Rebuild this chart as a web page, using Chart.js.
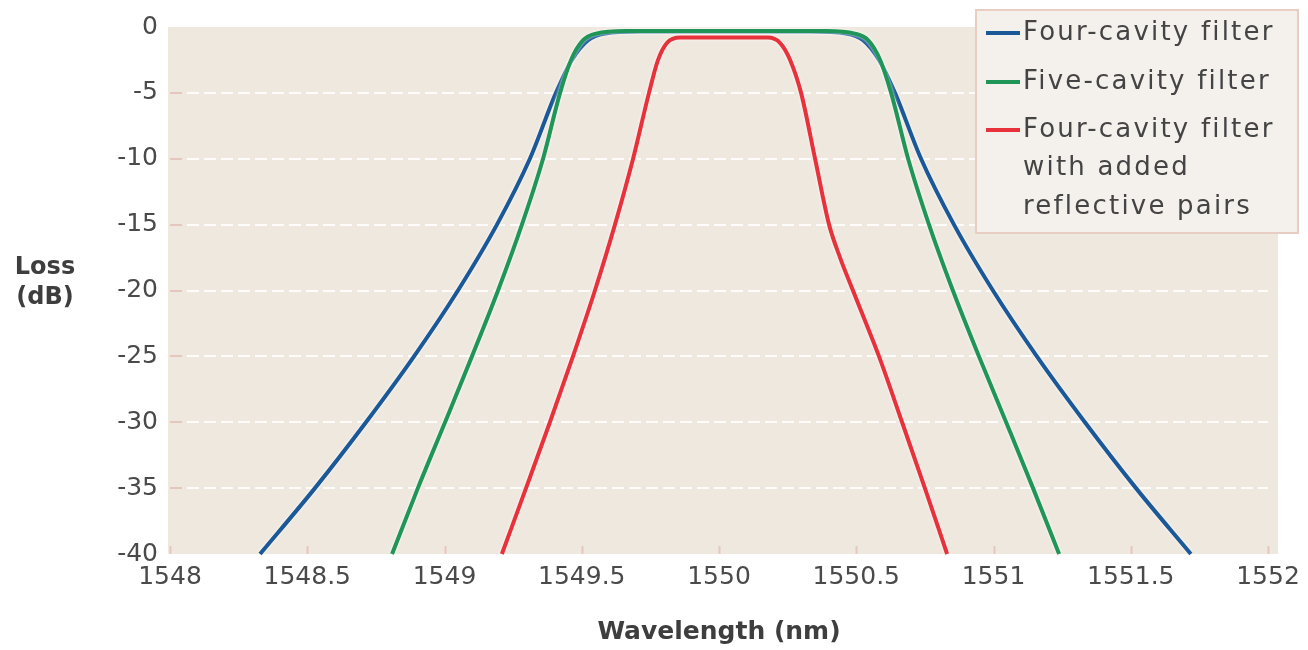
<!DOCTYPE html>
<html>
<head>
<meta charset="utf-8">
<script src="https://cdn.jsdelivr.net/npm/chart.js@4.4.1/dist/chart.umd.min.js"></script>
<style>
  html, body { margin: 0; padding: 0; background: #ffffff; }
  #wrap { width: 1308px; height: 650px; position: relative; }
</style>
</head>
<body>
<div id="wrap"><canvas id="chart" width="1308" height="650"></canvas></div>
<script>
// ---------- data ----------
const seriesLabels = [
  ['Four-cavity filter'],
  ['Five-cavity filter'],
  ['Four-cavity filter', 'with added', 'reflective pairs']
];
const seriesColors = ['#1b5897', '#1f9657', '#e8323b'];

// Four-cavity filter (wavelength nm, loss dB)
const fourCavityWl = [1548.328, 1548.528, 1548.714, 1548.889, 1549.049, 1549.191, 1549.311, 1549.406, 1549.464, 1549.523, 1549.585, 1549.712, 1550.020, 1550.335, 1550.463, 1550.525, 1550.583, 1550.641, 1550.736, 1550.856, 1550.998, 1551.158, 1551.333, 1551.519, 1551.719];
const fourCavityLoss = [-40, -35, -30, -25, -20, -15, -10, -5, -2.5, -1, -0.5, -0.35, -0.35, -0.35, -0.5, -1, -2.5, -5, -10, -15, -20, -25, -30, -35, -40];

// Five-cavity filter
const fiveCavityWl = [1548.809, 1548.903, 1549.002, 1549.100, 1549.195, 1549.282, 1549.359, 1549.421, 1549.461, 1549.505, 1549.552, 1549.658, 1550.020, 1550.390, 1550.495, 1550.543, 1550.587, 1550.627, 1550.689, 1550.765, 1550.852, 1550.947, 1551.046, 1551.144, 1551.239];
const fiveCavityLoss = [-40, -35, -30, -25, -20, -15, -10, -5, -2.5, -1, -0.5, -0.3, -0.3, -0.3, -0.5, -1, -2.5, -5, -10, -15, -20, -25, -30, -35, -40];

// Four-cavity filter with added reflective pairs
const reflectiveWl = [1549.209, 1549.297, 1549.384, 1549.468, 1549.548, 1549.621, 1549.687, 1549.745, 1549.778, 1549.811, 1549.858, 1550.020, 1550.178, 1550.222, 1550.259, 1550.299, 1550.350, 1550.401, 1550.441, 1550.488, 1550.536, 1550.583, 1550.667, 1550.750, 1550.831];
const reflectiveLoss = [-40, -35, -30, -25, -20, -15, -10, -5, -2.5, -1.2, -0.8, -0.8, -0.8, -1.2, -2.5, -5, -10, -15, -17.5, -20, -22.5, -25, -30, -35, -40];

const xTickValues = [1548, 1548.5, 1549, 1549.5, 1550, 1550.5, 1551, 1551.5, 1552];
const xTickLabels = ['1548', '1548.5', '1549', '1549.5', '1550', '1550.5', '1551', '1551.5', '1552'];
const yTickValues = [0, -5, -10, -15, -20, -25, -30, -35, -40];
const yTickLabels = ['0', '-5', '-10', '-15', '-20', '-25', '-30', '-35', '-40'];

const xTitle = 'Wavelength (nm)';
const yTitleLines = ['Loss', '(dB)'];

// ---------- build ----------
function toPoints(xs, ys) { return xs.map((x, i) => ({ x: x, y: ys[i] })); }

const plotBg = {
  id: 'plotBg',
  beforeDraw(chart) {
    const { ctx, chartArea: a } = chart;
    ctx.save();
    ctx.fillStyle = '#efe8df';
    ctx.fillRect(a.left - 2, a.top, a.right - a.left + 12, a.bottom - a.top);
    ctx.restore();
  },
  beforeDatasetsDraw(chart) {
    const { ctx, chartArea: a, scales } = chart;
    ctx.save();
    ctx.strokeStyle = '#e6c7bd';
    ctx.lineWidth = 2;
    xTickValues.forEach(v => {
      const px = Math.round(scales.x.getPixelForValue(v)) + 0.5;
      ctx.beginPath(); ctx.moveTo(px, a.bottom); ctx.lineTo(px, a.bottom - 8); ctx.stroke();
    });
    yTickValues.forEach(v => {
      if (v === 0 || v === -40) return;
      const py = Math.round(scales.y.getPixelForValue(v));
      ctx.beginPath(); ctx.moveTo(a.left, py); ctx.lineTo(a.left + 12, py); ctx.stroke();
    });
    ctx.restore();
  },
  beforeDatasetDraw(chart) {
    chart.ctx.save();
    chart.ctx.shadowColor = 'rgba(255,255,255,0.95)';
    chart.ctx.shadowBlur = 3;
  },
  afterDatasetDraw(chart) {
    chart.ctx.restore();
  },
  afterDraw(chart) {
    const { ctx } = chart;
    // y-axis title (horizontal, two lines)
    ctx.save();
    ctx.fillStyle = '#3e3e3e';
    ctx.font = 'bold 24px "DejaVu Sans"';
    ctx.textAlign = 'center';
    ctx.textBaseline = 'middle';
    ctx.fillText(yTitleLines[0], 45, 268);
    ctx.fillText(yTitleLines[1], 45, 298);
    ctx.restore();

    // legend box
    const bx = 976, by = 10, bw = 322, bh = 223;
    ctx.save();
    ctx.fillStyle = '#f4f0ec';
    ctx.fillRect(bx, by, bw, bh);
    ctx.strokeStyle = '#e8cdc2';
    ctx.lineWidth = 2;
    ctx.strokeRect(bx, by, bw, bh);
    ctx.font = '26px "DejaVu Sans"';
    try { ctx.letterSpacing = '2.2px'; } catch (e) {}
    ctx.textAlign = 'left';
    ctx.textBaseline = 'middle';
    const entryY = [33, 82, 130];
    chart.data.datasets.forEach((ds, i) => {
      const y0 = entryY[i];
      ctx.strokeStyle = ds.borderColor;
      ctx.lineWidth = 4;
      ctx.beginPath(); ctx.moveTo(986, y0); ctx.lineTo(1020, y0); ctx.stroke();
      ctx.fillStyle = '#444444';
      seriesLabels[i].forEach((t, k) => ctx.fillText(t, 1023, y0 + k * 38.5));
    });
    ctx.restore();
  }
};

new Chart(document.getElementById('chart'), {
  type: 'line',
  data: {
    datasets: [
      { label: seriesLabels[0].join(' '), data: toPoints(fourCavityWl, fourCavityLoss), borderColor: seriesColors[0], order: 3 },
      { label: seriesLabels[1].join(' '), data: toPoints(fiveCavityWl, fiveCavityLoss), borderColor: seriesColors[1], order: 2 },
      { label: seriesLabels[2].join(' '), data: toPoints(reflectiveWl, reflectiveLoss), borderColor: seriesColors[2], order: 1 }
    ].map(d => Object.assign(d, {
      borderWidth: 4, pointRadius: 0, fill: false,
      cubicInterpolationMode: 'monotone', clip: 4
    }))
  },
  options: {
    responsive: false,
    animation: false,
    devicePixelRatio: 1,
    layout: { padding: { left: 0, right: 40, top: 22, bottom: 0 } },
    plugins: { legend: { display: false }, tooltip: { enabled: false } },
    scales: {
      x: {
        type: 'linear', min: 1548, max: 1552,
        afterBuildTicks(scale) { scale.ticks = xTickValues.map(v => ({ value: v })); },
        afterFit(scale) { scale.height = 96; },
        ticks: {
          callback(v) { const i = xTickValues.indexOf(v); return i >= 0 ? xTickLabels[i] : ''; },
          font: { family: 'DejaVu Sans', size: 25 }, color: '#4a4a4a', padding: 8,
          maxRotation: 0, autoSkip: false
        },
        grid: { display: false, drawTicks: false },
        border: { display: false },
        title: {
          display: true, text: xTitle, color: '#3e3e3e',
          font: { family: 'DejaVu Sans', size: 25, weight: 'bold' },
          padding: { top: 0, bottom: 3 }
        }
      },
      y: {
        type: 'linear', min: -40, max: 0,
        afterBuildTicks(scale) { scale.ticks = yTickValues.map(v => ({ value: v })); },
        afterFit(scale) { scale.width = 170; },
        ticks: {
          callback(v) { const i = yTickValues.indexOf(v); return i >= 0 ? yTickLabels[i] : ''; },
          font: { family: 'DejaVu Sans', size: 25 }, color: '#4a4a4a', padding: 12
        },
        grid: {
          drawTicks: false, lineWidth: 2,
          color(ctx) { const v = ctx.tick && ctx.tick.value; return (v === 0 || v === -40) ? 'rgba(0,0,0,0)' : 'rgba(255,255,255,0.85)'; }
        },
        border: { display: false, dash: [12, 5] }
      }
    }
  },
  plugins: [plotBg]
});
</script>
</body>
</html>
